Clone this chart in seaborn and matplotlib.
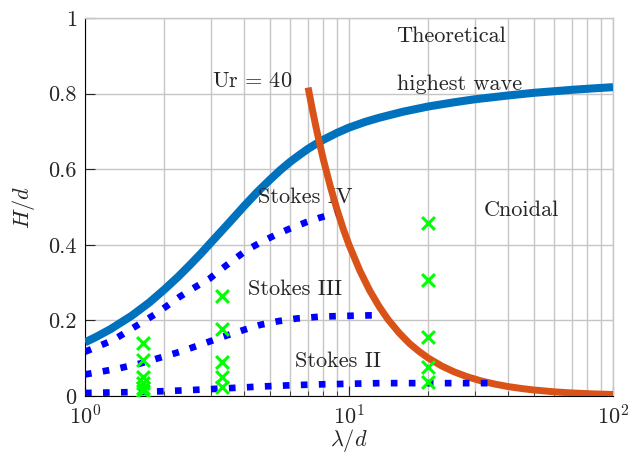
import matplotlib
matplotlib.use("Agg")
import matplotlib.pyplot as plt
import seaborn as sns
from matplotlib.ticker import LogLocator, NullFormatter

# ---------------- data ----------------
highest_x = [1, 1.1, 1.25, 1.5, 1.75, 2, 2.25, 2.5, 2.75, 3, 3.5, 4, 4.5, 5, 5.5,
             6, 6.5, 7, 7.5, 8, 9, 10, 11.5, 13, 16, 20, 25, 30, 40, 50, 70, 85, 100]
highest_h = [0.142, 0.156, 0.177, 0.212, 0.247, 0.282, 0.315, 0.347, 0.377, 0.406,
             0.457, 0.502, 0.540, 0.571, 0.598, 0.620, 0.638, 0.654, 0.667, 0.678,
             0.696, 0.710, 0.725, 0.736, 0.752, 0.766, 0.777, 0.785, 0.795, 0.802,
             0.810, 0.814, 0.817]

ur_x = [7, 7.25, 7.5, 7.75, 8, 8.5, 9, 9.5, 10, 11, 12, 13, 14, 15.5, 17, 18.5,
        20, 22.5, 25, 28, 32, 36, 40, 45, 50, 60, 70, 85, 100]
ur_h = [0.816, 0.761, 0.711, 0.666, 0.625, 0.554, 0.494, 0.443, 0.400, 0.331,
        0.278, 0.237, 0.204, 0.1665, 0.138, 0.117, 0.100, 0.079, 0.064, 0.051,
        0.039, 0.031, 0.025, 0.0198, 0.016, 0.011, 0.008, 0.0055, 0.004]

stokes4_x = [1, 1.28, 1.62, 1.87, 2.29, 2.57, 2.97, 3.25, 3.65, 4.1, 4.67, 5.3,
             5.98, 6.9, 7.77, 8.9]
stokes4_h = [0.117, 0.148, 0.192, 0.219, 0.263, 0.285, 0.311, 0.333, 0.360, 0.386,
             0.408, 0.427, 0.443, 0.460, 0.472, 0.483]

stokes3_x = [1, 1.3, 1.62, 2.29, 2.8, 3.34, 4.0, 4.6, 5.4, 6.33, 7.8, 9.8, 13.3]
stokes3_h = [0.057, 0.071, 0.086, 0.117, 0.138, 0.157, 0.175, 0.188, 0.198, 0.205,
             0.210, 0.212, 0.214]

stokes2_x = [1, 1.71, 2.4, 3.34, 4.6, 6.33, 8, 9.5, 13.1, 20, 34]
stokes2_h = [0.008, 0.011, 0.015, 0.020, 0.025, 0.029, 0.031, 0.032, 0.034, 0.034,
             0.034]

meas_x = [1.66, 1.66, 1.66, 1.66, 1.66, 1.66,
          3.3, 3.3, 3.3, 3.3, 3.3,
          20.0, 20.0, 20.0, 20.0, 20.0]
meas_h = [0.14, 0.095, 0.05, 0.034, 0.02, 0.012,
          0.265, 0.177, 0.09, 0.05, 0.025,
          0.458, 0.307, 0.156, 0.077, 0.037]

y_ticks = [0, 0.2, 0.4, 0.6, 0.8, 1]
y_ticklabels = ["0", "0.2", "0.4", "0.6", "0.8", "1"]

# ---------------- style ----------------
sns.set_style("ticks")
plt.rcParams["font.family"] = ["cmr10", "DejaVu Serif"]
plt.rcParams["mathtext.fontset"] = "cm"
plt.rcParams["axes.formatter.use_mathtext"] = True
plt.rcParams["axes.unicode_minus"] = False

FS = 16
GRID = "#c6c6c6"

fig = plt.figure(figsize=(6.3, 4.57), dpi=100)
ax = fig.add_axes([85 / 630, 61 / 457, 528 / 630, 378 / 457])
ax.set_xscale("log")

sns.lineplot(x=highest_x, y=highest_h, ax=ax, color="#0072BD", lw=5.8,
             solid_capstyle="butt", solid_joinstyle="round", zorder=3)
sns.lineplot(x=ur_x, y=ur_h, ax=ax, color="#D95319", lw=5.0,
             solid_capstyle="butt", solid_joinstyle="round", zorder=4)
for sx, sh in [(stokes4_x, stokes4_h), (stokes3_x, stokes3_h), (stokes2_x, stokes2_h)]:
    sns.lineplot(x=sx, y=sh, ax=ax, color="#0000FF", lw=4.8,
                 linestyle=(0, (1, 1.7)), dash_capstyle="butt",
                 dash_joinstyle="round", zorder=5)
sns.scatterplot(x=meas_x, y=meas_h, ax=ax, marker="x", s=85, color="#00FF00",
                linewidth=2.2, zorder=6)

ax.set_xlim(1, 100)
ax.set_ylim(0, 1)

ax.xaxis.set_major_locator(LogLocator(base=10, numticks=10))
ax.xaxis.set_minor_locator(LogLocator(base=10, subs=range(2, 10), numticks=20))
ax.xaxis.set_minor_formatter(NullFormatter())
ax.set_yticks(y_ticks)
ax.set_yticklabels(y_ticklabels)

ax.grid(True, which="major", color=GRID, lw=1.0, zorder=0)
ax.grid(True, which="minor", axis="x", color=GRID, lw=1.0, zorder=0)
ax.set_axisbelow(True)

ax.tick_params(which="major", direction="in", length=7, width=0.8,
               labelsize=FS, top=False, right=False)
ax.tick_params(axis="x", which="major", pad=6)
ax.tick_params(axis="y", which="major", pad=6)
ax.tick_params(which="minor", direction="in", length=3.5, width=0.6,
               top=False, right=False)

for side in ["top", "right"]:
    ax.spines[side].set_color(GRID)
    ax.spines[side].set_linewidth(1.0)
for side in ["left", "bottom"]:
    ax.spines[side].set_color("black")
    ax.spines[side].set_linewidth(0.8)

ax.set_xlabel(r"$\lambda/d$", fontsize=FS, labelpad=-1)
ax.set_ylabel(r"$H/d$", fontsize=FS, labelpad=8)

ax.text(3.02, 0.817, r"$\mathrm{Ur}\,=\,40$", fontsize=FS, ha="left", va="baseline")
ax.text(15.14, 0.937, "Theoretical", fontsize=FS, ha="left", va="baseline")
ax.text(15.14, 0.81, "highest wave", fontsize=FS, ha="left", va="baseline")
ax.text(4.51, 0.511, "Stokes IV", fontsize=FS, ha="left", va="baseline")
ax.text(4.13, 0.267, "Stokes III", fontsize=FS, ha="left", va="baseline")
ax.text(6.24, 0.0776, "Stokes II", fontsize=FS, ha="left", va="baseline")
ax.text(32.4, 0.477, "Cnoidal", fontsize=FS, ha="left", va="baseline")

fig.savefig("out.png", dpi=100)
